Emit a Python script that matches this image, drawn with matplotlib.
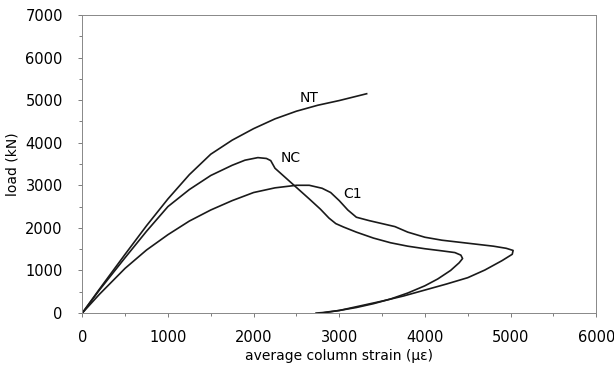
import matplotlib.pyplot as plt
from matplotlib.ticker import MultipleLocator

# curves (strain in microstrain, load in kN)
nt_strain = [0, 200, 500, 750, 1000, 1250, 1500, 1750, 2000, 2250, 2500, 2750, 3000, 3200, 3320]
nt_load = [0, 560, 1380, 2050, 2680, 3250, 3730, 4060, 4330, 4560, 4740, 4880, 4990, 5090, 5150]

nc_strain = [0, 200, 500, 750, 1000, 1250, 1500, 1750, 1900, 2050, 2150, 2200, 2250, 2350,
             2500, 2650, 2780, 2880, 2960, 3050, 3200, 3400, 3600, 3800, 4000, 4200, 4350,
             4420, 4440, 4400, 4300, 4150, 4000, 3800, 3600, 3400, 3200, 3000, 2800, 2730]
nc_load = [0, 540, 1300, 1920, 2500, 2900, 3230, 3470, 3590, 3650, 3630, 3580, 3400, 3220,
           2950, 2680, 2440, 2230, 2100, 2020, 1900, 1760, 1650, 1570, 1510, 1460, 1420,
           1360, 1280, 1180, 1000, 800, 640, 470, 330, 220, 130, 60, 10, 0]

c1_strain = [0, 200, 500, 750, 1000, 1250, 1500, 1750, 2000, 2250, 2500, 2650, 2800, 2900,
             3000, 3100, 3200, 3350, 3500, 3650, 3800, 4000, 4200, 4500, 4800, 4950, 5030,
             5020, 4900, 4700, 4500, 4250, 4000, 3750, 3500, 3250, 3000, 2800]
c1_load = [0, 440, 1050, 1480, 1840, 2160, 2420, 2640, 2830, 2940, 3000, 3000, 2930, 2830,
           2640, 2420, 2250, 2170, 2100, 2030, 1900, 1780, 1710, 1640, 1570, 1520, 1470,
           1380, 1230, 1010, 830, 680, 540, 400, 280, 170, 60, 0]

fig = plt.figure(figsize=(6.14, 3.74), dpi=100)
ax = fig.add_axes([0.134, 0.163, 0.837, 0.797])

for xs, ys in [(nt_strain, nt_load), (nc_strain, nc_load), (c1_strain, c1_load)]:
    ax.plot(xs, ys, color="#1a1a1a", linewidth=1.2)

ax.text(2650, 5050, "NT", fontsize=10, ha="center", va="center")
ax.text(2430, 3650, "NC", fontsize=10, ha="center", va="center")
ax.text(3150, 2800, "C1", fontsize=10, ha="center", va="center")

ax.set_xlim(0, 6000)
ax.set_ylim(0, 7000)
ax.xaxis.set_major_locator(MultipleLocator(1000))
ax.yaxis.set_major_locator(MultipleLocator(1000))
ax.xaxis.set_minor_locator(MultipleLocator(500))
ax.yaxis.set_minor_locator(MultipleLocator(500))
ax.tick_params(which="major", direction="out", length=3, width=0.6, color="#666666",
               labelsize=10.5)
ax.tick_params(which="minor", direction="out", length=2, width=0.6, color="#666666")
ax.tick_params(axis="y", pad=11)
ax.tick_params(axis="x", pad=9)

for s in ax.spines.values():
    s.set_color("#888888")
    s.set_linewidth(0.7)
    s.set_linestyle((0, (2, 1)))

ax.set_xlabel("average column strain (\u03bc\u03b5)", fontsize=10, labelpad=3)
ax.set_ylabel("load (kN)", fontsize=10, labelpad=4)

fig.savefig("out.png", dpi=100)
